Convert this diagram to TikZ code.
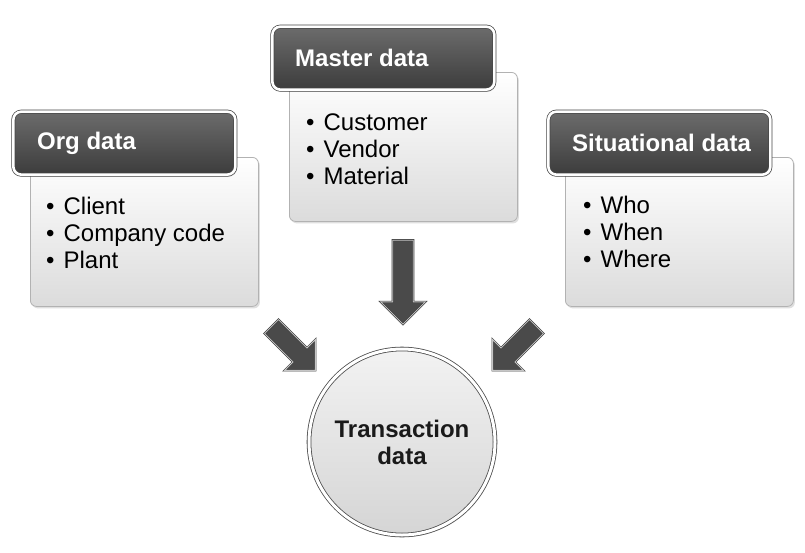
\documentclass[tikz,border=0pt]{standalone}
\usepackage{fontspec}
\setmainfont{Liberation Sans}
\usetikzlibrary{calc,positioning,shapes.arrows,shadows}
\definecolor{headtop}{HTML}{6C6C6C}
\definecolor{headbot}{HTML}{3C3C3C}
\definecolor{arrowgray}{HTML}{4A4A4A}
\definecolor{hubtext}{HTML}{1A1A1A}

\begin{document}
\begin{tikzpicture}[x=1pt,y=-1pt,
  every node/.style={font=\fontsize{24}{27}\selectfont},
  bodybox/.style={rectangle,rounded corners=6pt,draw=gray!60,line width=0.8pt,
    top color=white,bottom color=gray!28,minimum width=228pt,minimum height=149pt,
    anchor=north west,drop shadow={opacity=0.25,shadow xshift=1.5pt,shadow yshift=-2pt}},
  headbox/.style={rectangle,rounded corners=8pt,draw=gray!55!black,line width=0.7pt,
    double=white,double distance=2.6pt,top color=headtop,bottom color=headbot,
    minimum width=222pt,minimum height=63pt,anchor=south west,
    drop shadow={opacity=0.25,shadow xshift=1.5pt,shadow yshift=-2pt}},
  headtext/.style={anchor=west,inner sep=0pt,text=white,
    font=\fontsize{24}{27}\selectfont\bfseries},
  listitem/.style={anchor=base west,inner sep=0pt},
  bigarrow/.style={single arrow,inner xsep=0pt,inner ysep=10pt,fill=arrowgray,
    draw=black!75,line width=0.6pt,double=gray!45,double distance=0.8pt,
    single arrow head extend=12pt},
  hub/.style={circle,minimum size=186pt,draw=gray!60!black,line width=0.8pt,
    double=white,double distance=3pt,top color=gray!10,bottom color=gray!33,
    align=center,text=hubtext,font=\fontsize{24}{27}\selectfont\bfseries,
    drop shadow={opacity=0.25,shadow xshift=1.5pt,shadow yshift=-2pt}}
]
\fill[white] (0,0) rectangle (805,552);
\useasboundingbox (0,0) rectangle (805,552);

\node[bodybox] (orgbody) at (30,157) {};
\node[headbox] (orghead) at ($(orgbody.north west)+(-17,18)$) {};
\node[headtext] (orgtitle) at ($(orghead.west)+(24,0)$) {Org data};
\foreach \txt [count=\i] in {Client,Company code,Plant}
  \node[listitem] (org\i) at ($(orgbody.north west)+(16,30+27*\i)$) {\textbullet\hspace{9pt}\txt};

\node[bodybox] (masterbody) at (289,72) {};
\node[headbox] (masterhead) at ($(masterbody.north west)+(-17,18)$) {};
\node[headtext] (mastertitle) at ($(masterhead.west)+(23,0)$) {Master data};
\foreach \txt [count=\i] in {Customer,Vendor,Material}
  \node[listitem] (master\i) at ($(masterbody.north west)+(17,31+27*\i)$) {\textbullet\hspace{9pt}\txt};

\node[bodybox] (sitbody) at (565,157) {};
\node[headbox] (sithead) at ($(sitbody.north west)+(-17,18)$) {};
\node[headtext] (sittitle) at ($(sithead.west)+(24,0)$) {Situational data};
\foreach \txt [count=\i] in {Who,When,Where}
  \node[listitem] (sit\i) at ($(sitbody.north west)+(18,29+27*\i)$) {\textbullet\hspace{9pt}\txt};

\node[hub] (trans) at (402,442) {Transaction\\data};

\node[bigarrow,minimum height=84pt,rotate=-90] (masterarrow) at (403,277) {};
\node[bigarrow,minimum height=62pt,inner ysep=9.5pt,rotate=-45] (orgarrow) at (290,345) {};
\node[bigarrow,minimum height=62pt,inner ysep=9.5pt,rotate=-135] (sitarrow) at (518,345) {};
\end{tikzpicture}
\end{document}
